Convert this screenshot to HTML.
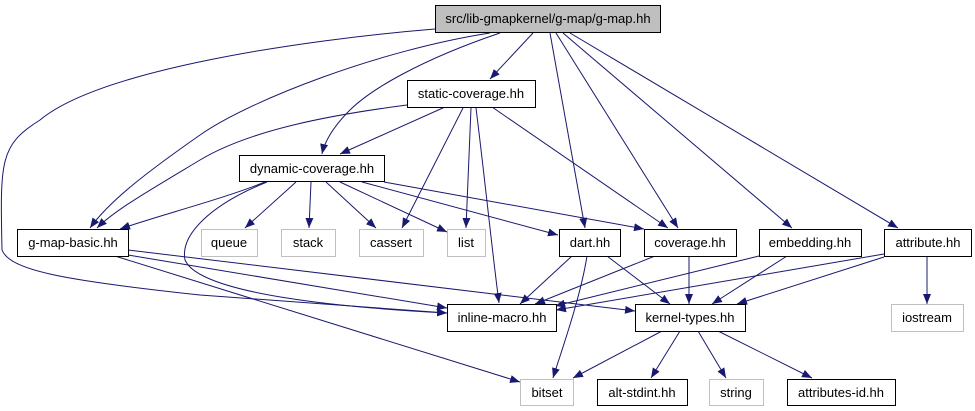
<!DOCTYPE html>
<html><head><meta charset="utf-8"><style>
html,body{margin:0;padding:0;background:#fff;}
svg{display:block;}
text{font-family:"Liberation Sans",Arial,sans-serif;font-size:13px;fill:#000;}
</style></head><body>
<svg width="975" height="411" viewBox="0 0 975 411" xmlns="http://www.w3.org/2000/svg">
<defs>
<marker id="a" markerUnits="userSpaceOnUse" markerWidth="11" markerHeight="8" refX="10" refY="4" orient="auto">
<path d="M0,0 L10,4 L0,8 Z" fill="#191970"/>
</marker>
</defs>
<g fill="none" stroke="#191970" stroke-width="1" marker-end="url(#a)">
<path d="M435,29 C300,40 100,70 40,120 C0,145 0,160 2,250 C10,270 60,280 200,295 L447,313"/>
<path d="M490,33 C380,50 250,100 200,135 C150,170 110,200 90,228"/>
<path d="M533,33 L490,79"/>
<path d="M500,33 C420,60 370,90 350,110 C335,125 325,140 322,154"/>
<path d="M550,33 L585,228"/>
<path d="M556,33 L678,228"/>
<path d="M563,33 L792,228"/>
<path d="M570,33 L898,228"/>
<path d="M445,107 L340,154"/>
<path d="M407,105 C330,115 250,130 200,160 C150,190 115,210 97,228"/>
<path d="M463,108 L402,228"/>
<path d="M471,108 L466,228"/>
<path d="M476,108 C485,180 492,250 499,303"/>
<path d="M492,107 L668,228"/>
<path d="M265,182 C220,200 160,215 120,229"/>
<path d="M296,182 L245,228"/>
<path d="M311,182 L309,228"/>
<path d="M326,182 L376,228"/>
<path d="M340,182 L447,232"/>
<path d="M362,182 L558,235"/>
<path d="M384,182 L644,229"/>
<path d="M267,182 C210,205 180,235 185,260 C200,295 350,308 447,313"/>
<path d="M128,255 L447,308"/>
<path d="M128,250 L635,311"/>
<path d="M115,256 L520,382"/>
<path d="M572,256 L520,304"/>
<path d="M587,256 C580,300 560,355 553,378"/>
<path d="M607,256 L670,304"/>
<path d="M655,256 L535,304"/>
<path d="M689,256 L689,304"/>
<path d="M759,256 L555,306"/>
<path d="M884,254 L556,310"/>
<path d="M787,256 L712,304"/>
<path d="M884,257 L737,304"/>
<path d="M927,256 L927,304"/>
<path d="M662,331 L573,378"/>
<path d="M680,331 L651,378"/>
<path d="M698,331 L726,378"/>
<path d="M718,331 L812,378"/>
</g>
<g stroke-width="1">
<rect x="435.5" y="5.5" width="225" height="27" fill="#bfbfbf" stroke="#000"/>
<rect x="407.5" y="80.5" width="128" height="27" fill="#fff" stroke="#000"/>
<rect x="239.5" y="155.5" width="145" height="26" fill="#fff" stroke="#000"/>
<rect x="17.5" y="229.5" width="111" height="27" fill="#fff" stroke="#000"/>
<rect x="201.5" y="229.5" width="56" height="27" fill="#fff" stroke="#bfbfbf"/>
<rect x="281.5" y="229.5" width="54" height="27" fill="#fff" stroke="#bfbfbf"/>
<rect x="359.5" y="229.5" width="64" height="27" fill="#fff" stroke="#bfbfbf"/>
<rect x="447.5" y="229.5" width="38" height="27" fill="#fff" stroke="#bfbfbf"/>
<rect x="559.5" y="229.5" width="61" height="27" fill="#fff" stroke="#000"/>
<rect x="644.5" y="229.5" width="92" height="27" fill="#fff" stroke="#000"/>
<rect x="759.5" y="229.5" width="102" height="27" fill="#fff" stroke="#000"/>
<rect x="884.5" y="229.5" width="87" height="27" fill="#fff" stroke="#000"/>
<rect x="447.5" y="304.5" width="109" height="27" fill="#fff" stroke="#000"/>
<rect x="635.5" y="304.5" width="110" height="27" fill="#fff" stroke="#000"/>
<rect x="891.5" y="304.5" width="72" height="27" fill="#fff" stroke="#bfbfbf"/>
<rect x="520.5" y="379.5" width="53" height="26" fill="#fff" stroke="#bfbfbf"/>
<rect x="597.5" y="379.5" width="90" height="26" fill="#fff" stroke="#000"/>
<rect x="709.5" y="379.5" width="54" height="26" fill="#fff" stroke="#bfbfbf"/>
<rect x="787.5" y="379.5" width="108" height="26" fill="#fff" stroke="#000"/>
</g>
<g text-anchor="middle">
<text x="548" y="23">src/lib-gmapkernel/g-map/g-map.hh</text>
<text x="471" y="98">static-coverage.hh</text>
<text x="312" y="173">dynamic-coverage.hh</text>
<text x="73" y="247">g-map-basic.hh</text>
<text x="229" y="247">queue</text>
<text x="308" y="247">stack</text>
<text x="391" y="247">cassert</text>
<text x="466" y="247">list</text>
<text x="590" y="247">dart.hh</text>
<text x="690" y="247">coverage.hh</text>
<text x="810" y="247">embedding.hh</text>
<text x="928" y="247">attribute.hh</text>
<text x="502" y="322">inline-macro.hh</text>
<text x="690" y="322">kernel-types.hh</text>
<text x="927" y="322">iostream</text>
<text x="547" y="397">bitset</text>
<text x="642" y="397">alt-stdint.hh</text>
<text x="736" y="397">string</text>
<text x="841" y="397">attributes-id.hh</text>
</g>
</svg>
</body></html>
